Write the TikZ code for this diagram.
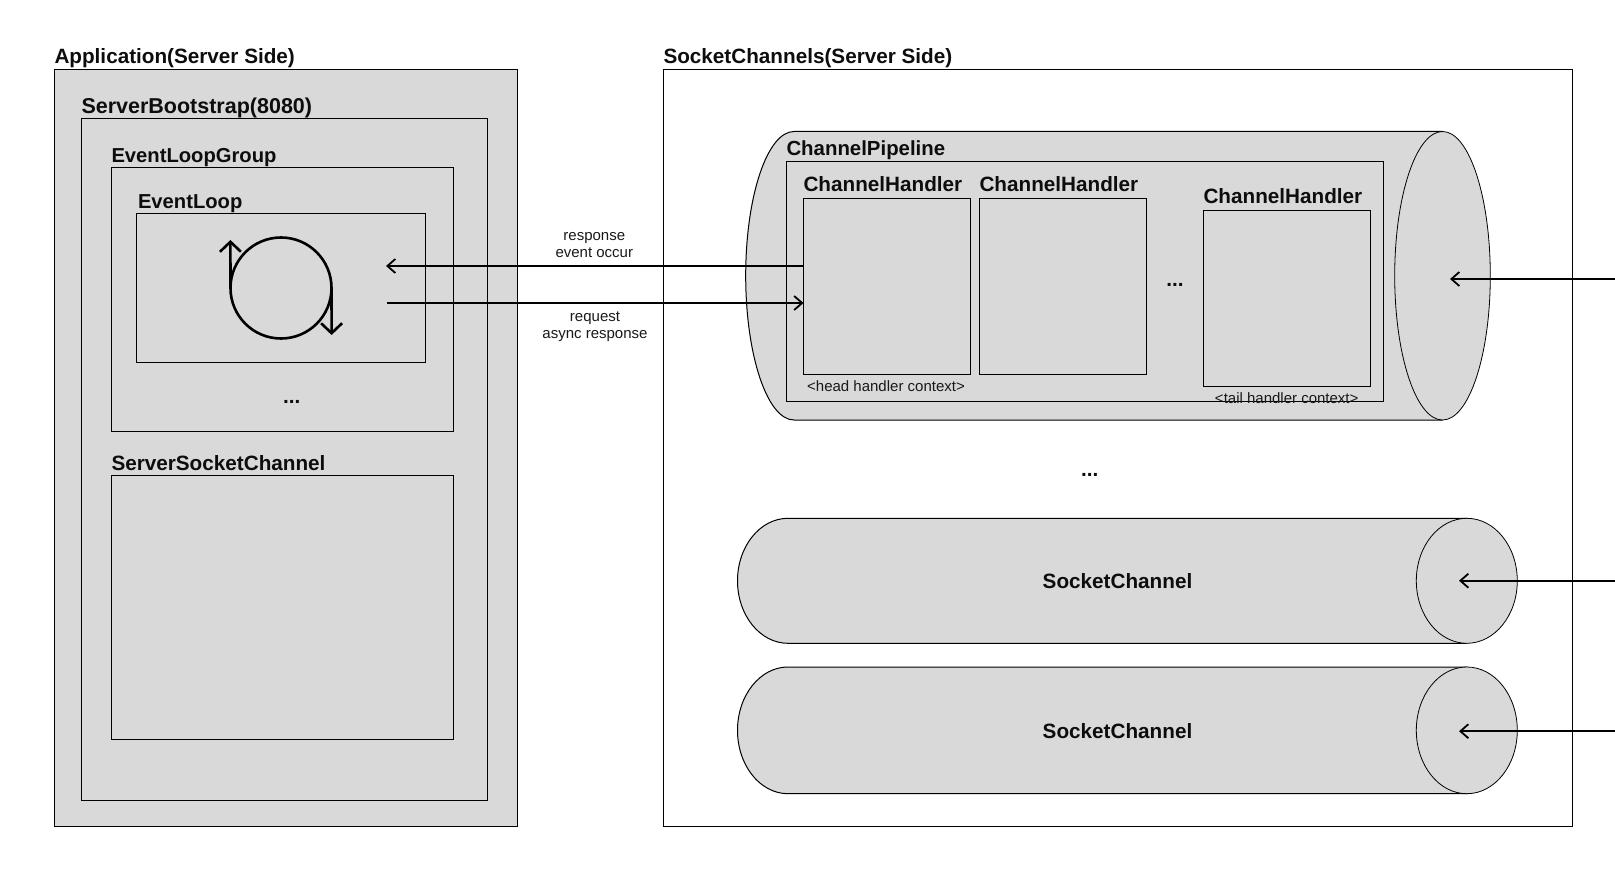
\documentclass[tikz,border=0pt]{standalone}
\usepackage{fontspec}
\setmainfont{Liberation Sans}
\usetikzlibrary{arrows.meta,shapes.geometric}
\definecolor{boxgray}{HTML}{D9D9D9}
\tikzset{
  panel/.style={draw=black,fill=boxgray,line width=1pt,inner sep=0pt,outer sep=0pt,anchor=north west},
  whitepanel/.style={panel,fill=white},
  capend/.style={ellipse,draw=black,fill=boxgray,line width=0.8pt,inner sep=0pt,outer sep=0pt},
  cylbody/.style={draw=black,fill=boxgray,line width=1pt},
  title/.style={anchor=base west,inner sep=0pt,outer sep=0pt,font=\fontsize{20.7}{20.7}\selectfont\bfseries,text=black!95},
  titlec/.style={title,anchor=base},
  small/.style={anchor=base,inner sep=0pt,outer sep=0pt,font=\fontsize{15}{15}\selectfont,text=black!90},
  conn/.style={line width=1.8pt,draw=black,-{Straight Barb[length=8pt,width=14pt,line width=1.8pt]}},
  looparrow/.style={line width=2.6pt,draw=black,-{Straight Barb[length=10pt,width=21pt,line width=2.6pt]}},
}
\newcommand{\mkbox}[6][panel]{\node[#1,minimum width=#5pt,minimum height=#6pt] (#2) at (#3,#4) {};}
\begin{document}
\begin{tikzpicture}[x=1pt,y=-1pt]
\useasboundingbox (0,0) rectangle (1615,880);
% left column
\mkbox{app}{54.5}{69.5}{463}{757}
\mkbox{boot}{81.5}{118.5}{406}{681.5}
\mkbox{group}{111.5}{167.5}{342}{264}
\mkbox{loop}{136.5}{213}{289}{149}
\mkbox{ssc}{111.5}{475}{342}{264.5}
\node[title] (tapp) at (54.5,64) {Application(Server Side)};
\node[title,font=\fontsize{21.5}{21.5}\selectfont\bfseries] (tboot) at (81.5,113.5) {ServerBootstrap(8080)};
\node[title,font=\fontsize{20.2}{20.2}\selectfont\bfseries] (tgroup) at (111.5,162.4) {EventLoopGroup};
\node[title,font=\fontsize{20.2}{20.2}\selectfont\bfseries] (tloop) at (138,208.2) {EventLoop};
\node[title] (tssc) at (111.5,470) {ServerSocketChannel};
\node[titlec] (dots1) at (291.7,403) {...};
% loop icon
\node[circle,draw=black,line width=2.6pt,minimum size=101pt,inner sep=0pt,outer sep=0pt] (loopc) at (281,288) {};
\coordinate (upTip) at (230.4,240);
\coordinate (downTip) at (331.6,335);
\draw[looparrow] (loopc.west) -- (upTip);
\draw[looparrow] (loopc.east) -- (downTip);
% right frame
\mkbox[whitepanel]{scs}{663.5}{69.5}{909}{757}
\node[title] (tscs) at (663.5,64) {SocketChannels(Server Side)};
% pipeline cylinder
\draw[cylbody] (794,131.5) arc[start angle=90,end angle=270,x radius=48.3pt,y radius=144.25pt] -- (1442,420) -- (1442,131.5) -- cycle;
\node[capend,minimum width=95.6pt,minimum height=288.5pt] (pcap) at (1442.5,275.75) {};
\mkbox{pipe}{786.5}{161.5}{597}{240}
\mkbox{h1}{803.5}{198.5}{167}{176}
\mkbox{h2}{979.5}{198.5}{167}{176}
\mkbox{h3}{1203.5}{210.5}{167}{176}
\node[title,font=\fontsize{20.4}{20.4}\selectfont\bfseries] (tpipe) at (786.5,156) {ChannelPipeline};
\node[title] (th1) at (803.5,191.4) {ChannelHandler};
\node[title] (th2) at (979.5,191.4) {ChannelHandler};
\node[title] (th3) at (1203.5,203.7) {ChannelHandler};
\node[small] (chead) at (886,391) {<head handler context>};
\node[small] (ctail) at (1286.7,403) {<tail handler context>};
\node[titlec] (dots2) at (1175,286) {...};
\node[titlec] (dots3) at (1089.7,476) {...};
% socket channels
\draw[cylbody] (788,518.3) arc[start angle=90,end angle=270,x radius=50.5pt,y radius=62.5pt] -- (1466.8,643.3) -- (1466.8,518.3) -- cycle;
\node[capend,minimum width=101pt,minimum height=125pt] (s1cap) at (1466.8,580.8) {};
\draw[cylbody] (788,667) arc[start angle=90,end angle=270,x radius=50.5pt,y radius=63.35pt] -- (1466.8,793.7) -- (1466.8,667) -- cycle;
\node[capend,minimum width=101pt,minimum height=126.7pt] (s2cap) at (1466.8,730.35) {};
\node[titlec] (ts1) at (1117.5,588) {SocketChannel};
\node[titlec] (ts2) at (1117.5,738.5) {SocketChannel};
% labels between columns
\node[small] (lr1) at (594.3,240) {response};
\node[small] (lr2) at (594.3,257.3) {event occur};
\node[small] (lq1) at (595,321) {request};
\node[small] (lq2) at (595,338) {async response};
% connectors
\coordinate (respTip) at (386,266);
\coordinate (reqStart) at (387,303);
\draw[conn] (h1.west |- respTip) -- (respTip);
\draw[conn] (reqStart) -- (reqStart -| h1.west);
\coordinate (pOut) at (1615,279);
\coordinate (s1Out) at (1615,580.7);
\coordinate (s2Out) at (1615,731.2);
\coordinate (pTip) at (1450,279);
\coordinate (s1Tip) at (1459,580.7);
\coordinate (s2Tip) at (1459,731.2);
\draw[conn] (pOut) -- (pTip);
\draw[conn] (s1Out) -- (s1Tip);
\draw[conn] (s2Out) -- (s2Tip);
\end{tikzpicture}
\end{document}
